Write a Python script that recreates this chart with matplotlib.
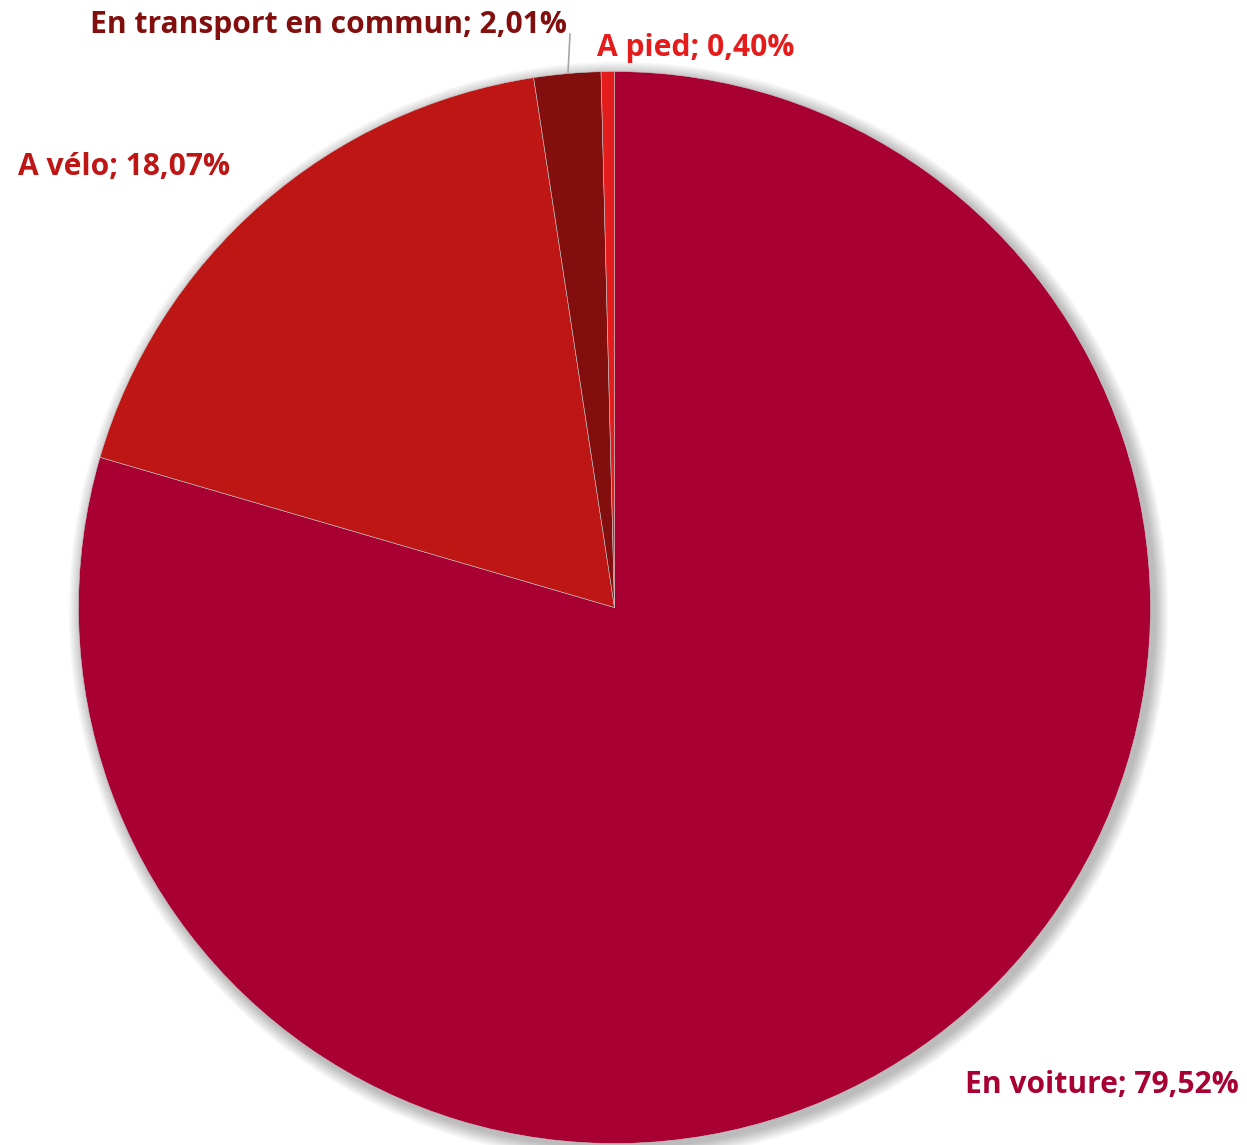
import matplotlib
matplotlib.use("Agg")
import matplotlib.pyplot as plt
from matplotlib.patches import Circle

categories = ["En voiture", "A vélo", "En transport en commun", "A pied"]
values = [79.52, 18.07, 2.01, 0.40]
labels = ["En voiture; 79,52%", "A vélo; 18,07%", "En transport en commun; 2,01%", "A pied; 0,40%"]
colors = ["#A80032", "#BE1515", "#820E0E", "#E41C1C"]

W, H = 1247, 1145
fig = plt.figure(figsize=(W / 100, H / 100), dpi=100)
ax = fig.add_axes([0, 0, 1, 1])
ax.set_xlim(0, W)
ax.set_ylim(0, H)
ax.set_aspect("equal")
ax.axis("off")

cx, cy, r = 614.5, H - 607.5, 536

# soft shadow
for i in range(14):
    ax.add_patch(Circle((cx + 4, cy - 4), r + 14 - i, color="black",
                        alpha=0.018, lw=0, zorder=0))

wedges, _ = ax.pie(values, colors=colors, startangle=90, counterclock=False,
                   center=(cx, cy), radius=r,
                   wedgeprops=dict(linewidth=0.4, edgecolor="#c8c8c8"),
                   frame=True)
ax.set_xlim(0, W)
ax.set_ylim(0, H)
ax.axis("off")

font = dict(family=["Open Sans", "DejaVu Sans"], fontweight="bold", fontsize=21.6)
ax.text(965, H - 1085, labels[0], color=colors[0], ha="left", va="center", **font)
ax.text(18, H - 167, labels[1], color=colors[1], ha="left", va="center", **font)
ax.text(567, H - 25, labels[2], color=colors[2], ha="right", va="center", **font)
ax.text(597, H - 48, labels[3], color=colors[3], ha="left", va="center", **font)

ax.plot([570, 568], [H - 34, H - 73], color="#a6a6a6", lw=1.2, zorder=5)

fig.savefig("out.png", dpi=100)
